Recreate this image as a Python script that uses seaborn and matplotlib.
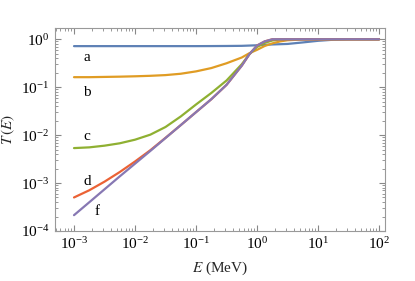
import numpy as np
import pandas as pd
import matplotlib
matplotlib.use("Agg")
import matplotlib.pyplot as plt
import seaborn as sns
from matplotlib.ticker import LogLocator, NullFormatter

# Data (E in MeV)
E = [0.001, 0.00178, 0.00316, 0.00562, 0.01, 0.0178, 0.0316, 0.0562, 0.1, 0.178, 0.316, 0.562,
     0.75, 1.0, 1.33, 1.78, 2.37, 3.16, 5.62, 10, 17.8, 31.6, 56.2, 100]
T_a = [0.72, 0.72, 0.72, 0.72, 0.72, 0.72, 0.72, 0.72, 0.72, 0.722, 0.725, 0.73,
       0.74, 0.75, 0.765, 0.78, 0.79, 0.80, 0.86, 0.93, 0.98, 1.0, 1.0, 1.0]
T_b = [0.162, 0.162, 0.164, 0.166, 0.169, 0.173, 0.179, 0.191, 0.214, 0.251, 0.316, 0.417,
       0.513, 0.603, 0.724, 0.822, 0.902, 0.955, 0.993, 1.0, 1.0, 1.0, 1.0, 1.0]
T_c = [0.00537, 0.00556, 0.00603, 0.00676, 0.00804, 0.01023, 0.01479, 0.02455, 0.04365, 0.07586, 0.138, 0.302,
       0.49, 0.692, 0.841, 0.944, 0.991, 1.0, 1.0, 1.0, 1.0, 1.0, 1.0, 1.0]
T_d = [0.000501, 0.000708, 0.00107, 0.0017, 0.00282, 0.00484, 0.00879, 0.0162, 0.0302, 0.0562, 0.112, 0.282,
       0.49, 0.741, 0.902, 1.0, 1.0, 1.0, 1.0, 1.0, 1.0, 1.0, 1.0, 1.0]
T_f = [0.000214, 0.000398, 0.000741, 0.00138, 0.00254, 0.00468, 0.00871, 0.0162, 0.0302, 0.0562, 0.112, 0.282,
       0.49, 0.741, 0.902, 1.0, 1.0, 1.0, 1.0, 1.0, 1.0, 1.0, 1.0, 1.0]
labels = ["a", "b", "c", "d", "f"]
colors = ["#5E81B5", "#E09C24", "#8FB032", "#EB6235", "#8778B3"]
label_E = [0.00163, 0.00163, 0.00163, 0.00163, 0.0024]
label_T = [0.41, 0.079, 0.0092, 0.0011, 0.00026]

series = [T_a, T_b, T_c, T_d, T_f]
df = pd.concat([pd.DataFrame({"E": E, "T": s, "curve": l}) for l, s in zip(labels, series)],
               ignore_index=True)

sns.set_theme(style="ticks")
plt.rcParams["font.family"] = ["Liberation Serif", "DejaVu Serif"]
plt.rcParams["mathtext.fontset"] = "stix"

fig = plt.figure(figsize=(4.15, 2.81), dpi=100)
ax = fig.add_axes([55/415, (281-231)/281, (385-55)/415, (231-28)/281])

sns.lineplot(data=df, x="E", y="T", hue="curve", palette=dict(zip(labels, colors)),
             legend=False, linewidth=1.6, ax=ax, sort=False)
for ln in ax.get_lines():
    ln.set_solid_joinstyle("round")

ax.set_xscale("log")
ax.set_yscale("log")
ax.set_xlim(4.88e-4, 125)
ax.set_ylim(1e-4, 1.72)

ax.xaxis.set_major_locator(LogLocator(base=10, numticks=20))
ax.yaxis.set_major_locator(LogLocator(base=10, numticks=20))
ax.xaxis.set_minor_locator(LogLocator(base=10, subs=np.arange(2, 10), numticks=50))
ax.yaxis.set_minor_locator(LogLocator(base=10, subs=np.arange(2, 10), numticks=50))
ax.xaxis.set_minor_formatter(NullFormatter())
ax.yaxis.set_minor_formatter(NullFormatter())

ax.tick_params(which="both", direction="in", top=True, right=True, color="#888888", labelsize=11, labelcolor="black")
ax.tick_params(which="major", length=4, width=0.8, pad=4)
ax.tick_params(which="minor", length=2, width=0.6)
for sp in ax.spines.values():
    sp.set_color("#999999")
    sp.set_linewidth(0.8)

for l, x, y in zip(labels, label_E, label_T):
    ax.text(x, y, l, fontsize=11, ha="center", va="center", color="black")

ax.set_xlabel("$E$ (MeV)", fontsize=11, labelpad=5)
ax.set_ylabel("$T\\,(E)$", fontsize=11, labelpad=3)

fig.savefig("out.png", dpi=100)
